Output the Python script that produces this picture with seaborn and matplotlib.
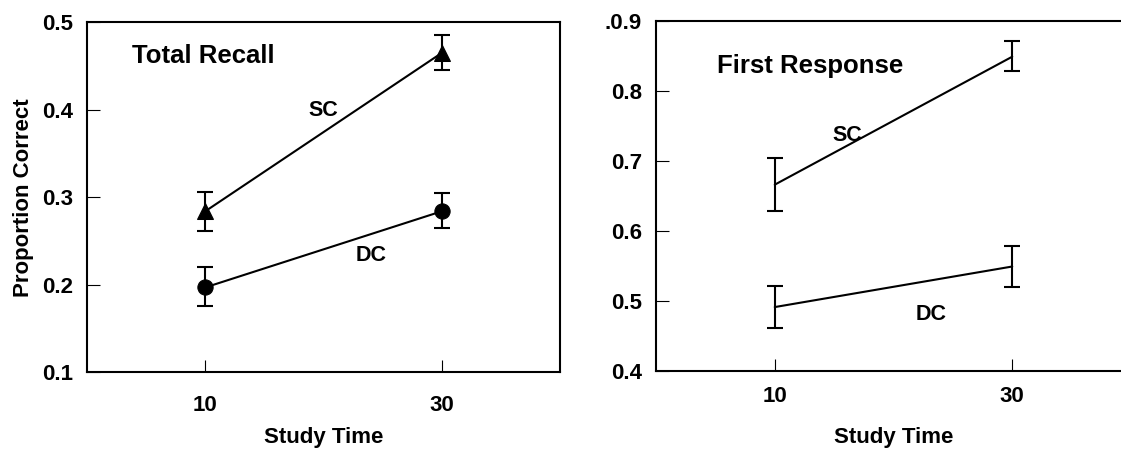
import matplotlib
matplotlib.use("Agg")
import matplotlib.pyplot as plt
import numpy as np
import pandas as pd
import seaborn as sns

# study times and conditions
study_time = [10, 30]
conditions = ["SC", "DC"]

# Total Recall panel: means and error bar ends
recall_sc = [0.284, 0.465]
recall_sc_lo = [0.261, 0.446]
recall_sc_hi = [0.306, 0.486]
recall_dc = [0.197, 0.284]
recall_dc_lo = [0.176, 0.265]
recall_dc_hi = [0.220, 0.305]

# First Response panel
first_sc = [0.666, 0.849]
first_sc_lo = [0.628, 0.828]
first_sc_hi = [0.704, 0.871]
first_dc = [0.491, 0.549]
first_dc_lo = [0.461, 0.519]
first_dc_hi = [0.521, 0.579]

recall_ticks = [0.1, 0.2, 0.3, 0.4, 0.5]
recall_ticklabels = ["0.1", "0.2", "0.3", "0.4", "0.5"]
first_ticks = [0.4, 0.5, 0.6, 0.7, 0.8, 0.9]
first_ticklabels = ["0.4", "0.5", "0.6", "0.7", "0.8", ".0.9"]

sns.set_style("white")
plt.rcParams["font.family"] = ["Liberation Sans", "DejaVu Sans"]
plt.rcParams["font.weight"] = "bold"
for key in ("text.color", "axes.labelcolor", "xtick.color", "ytick.color"):
    plt.rcParams[key] = "black"

fig = plt.figure(figsize=(11.21, 4.51), dpi=100)
ax1 = fig.add_axes([0.0776, 0.1745, 0.4220, 0.7761])
ax2 = fig.add_axes([0.5852, 0.1780, 0.4237, 0.7754])


def make_frame(sc, dc):
    return pd.DataFrame({
        "time": study_time * 2,
        "value": list(sc) + list(dc),
        "cond": [conditions[0]] * 2 + [conditions[1]] * 2,
    })


def draw_errors(ax, means, lo, hi):
    means = np.array(means)
    yerr = [means - np.array(lo), np.array(hi) - means]
    ax.errorbar(study_time, means, yerr=yerr, fmt="none", ecolor="black",
                elinewidth=1.5, capsize=5.5, capthick=1.5, zorder=3)


# left panel
df1 = make_frame(recall_sc, recall_dc)
sns.lineplot(data=df1, x="time", y="value", style="cond", markers={"SC": "^", "DC": "o"},
             dashes=False, color="black", linewidth=1.5, markersize=11,
             markeredgecolor="black", legend=False, ax=ax1)
draw_errors(ax1, recall_sc, recall_sc_lo, recall_sc_hi)
draw_errors(ax1, recall_dc, recall_dc_lo, recall_dc_hi)
ax1.set_ylim(0.1, 0.5)
ax1.set_yticks(recall_ticks)
ax1.set_yticklabels(recall_ticklabels)
ax1.set_ylabel("Proportion Correct", fontsize=16, fontweight="bold", labelpad=6)
ax1.set_xlabel("Study Time", fontsize=16, fontweight="bold", labelpad=8)
ax1.tick_params(axis="x", pad=16)
ax1.text(3.8, 0.461, "Total Recall", fontsize=18.5, fontweight="bold", ha="left", va="center")
ax1.text(20.0, 0.399, "SC", fontsize=15.5, fontweight="bold", ha="center", va="center")
ax1.text(24.0, 0.233, "DC", fontsize=15.5, fontweight="bold", ha="center", va="center")

# right panel
df2 = make_frame(first_sc, first_dc)
sns.lineplot(data=df2, x="time", y="value", units="cond", estimator=None,
             color="black", linewidth=1.5, legend=False, ax=ax2)
draw_errors(ax2, first_sc, first_sc_lo, first_sc_hi)
draw_errors(ax2, first_dc, first_dc_lo, first_dc_hi)
ax2.set_ylim(0.4, 0.9)
ax2.set_yticks(first_ticks)
ax2.set_yticklabels(first_ticklabels)
ax2.set_ylabel("")
ax2.set_xlabel("Study Time", fontsize=16, fontweight="bold", labelpad=14.5)
ax2.tick_params(axis="x", pad=11)
ax2.text(5.1, 0.835, "First Response", fontsize=18.5, fontweight="bold", ha="left", va="center")
ax2.text(16.1, 0.736, "SC", fontsize=15.5, fontweight="bold", ha="center", va="center")
ax2.text(23.2, 0.480, "DC", fontsize=15.5, fontweight="bold", ha="center", va="center")

for ax in (ax1, ax2):
    ax.set_xlim(0, 40)
    ax.set_xticks(study_time)
    ax.set_xticklabels([str(t) for t in study_time])
    ax.tick_params(axis="x", direction="in", length=8.5, width=0.8, labelsize=16, bottom=True)
    ax.tick_params(axis="y", direction="in", length=9, width=0.8, labelsize=16, left=True, pad=10)
    for lab in ax.get_xticklabels() + ax.get_yticklabels():
        lab.set_fontweight("bold")
    for side in ("left", "bottom", "top", "right"):
        ax.spines[side].set_visible(True)
        ax.spines[side].set_color("black")
        ax.spines[side].set_linewidth(1.5)

fig.savefig("out.png", dpi=100)
